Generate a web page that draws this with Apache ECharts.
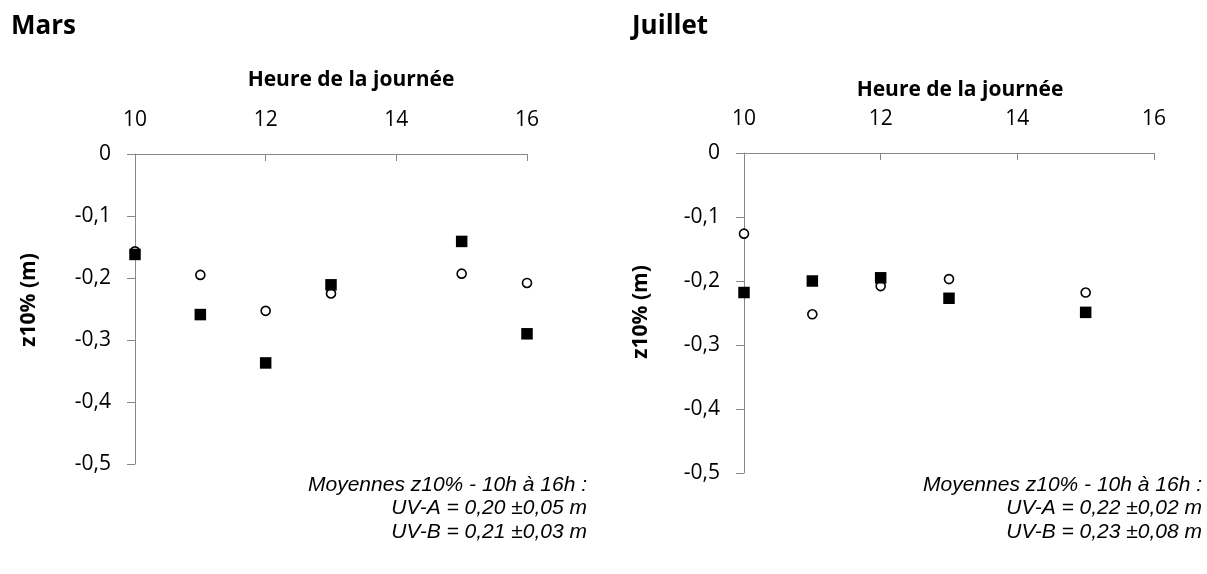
<!DOCTYPE html>
<html>
<head>
<meta charset="utf-8">
<script src="https://cdn.jsdelivr.net/npm/echarts@6/dist/echarts.min.js"></script>
<style>
  html, body { margin: 0; padding: 0; background: #fff; }
  #chart { width: 1207px; height: 574px; }
</style>
</head>
<body>
<div id="chart"></div>
<script>
// Hours of the day (x) and depth z10% (m) for each campaign
const hoursMars = [10, 11, 12, 13, 15, 16];
const marsUVB = [-0.157, -0.195, -0.253, -0.225, -0.193, -0.208];   // open circles
const marsUVA = [-0.162, -0.259, -0.337, -0.211, -0.141, -0.290];   // filled squares

const hoursJuillet = [10, 11, 12, 13, 15];
const juilletUVB = [-0.126, -0.252, -0.208, -0.197, -0.218];        // open circles
const juilletUVA = [-0.218, -0.200, -0.195, -0.227, -0.249];        // filled squares

const panelTitles = ['Mars', 'Juillet'];
const xAxisTitle = 'Heure de la journée';
const yAxisTitle = 'z10% (m)';
const notesMars = ['Moyennes z10% - 10h à 16h :', 'UV-A = 0,20 ±0,05 m', 'UV-B = 0,21 ±0,03 m'];
const notesJuillet = ['Moyennes z10% - 10h à 16h :', 'UV-A = 0,22 ±0,02 m', 'UV-B = 0,23 ±0,08 m'];

const pair = (xs, ys) => xs.map((x, i) => [x, ys[i]]);
const axisGray = '#878787';
const sans = '"Open Sans", "Noto Sans", sans-serif';

function xAxisFor(gridIndex) {
  return {
    gridIndex, type: 'value', position: 'top', min: 10, max: 16, interval: 2,
    axisLine: { show: true, onZero: false, lineStyle: { color: axisGray, width: 1 } },
    axisTick: { show: true, inside: true, length: 7, lineStyle: { color: axisGray } },
    axisLabel: { margin: 23, color: '#000', fontSize: 21, fontFamily: sans },
    splitLine: { show: false }
  };
}
function yAxisFor(gridIndex) {
  return {
    gridIndex, type: 'value', min: -0.5, max: 0, interval: 0.1,
    axisLine: { show: true, onZero: false, lineStyle: { color: axisGray, width: 1 } },
    axisTick: { show: true, inside: false, length: 8, lineStyle: { color: axisGray } },
    axisLabel: {
      margin: 24, color: '#000', fontSize: 21, fontFamily: sans,
      formatter: v => (Math.abs(v) < 1e-9 ? '0' : v.toFixed(1).replace('.', ','))
    },
    splitLine: { show: false }
  };
}
function circles(name, idx, data) {
  return {
    name, type: 'scatter', xAxisIndex: idx, yAxisIndex: idx, data,
    symbol: 'circle', symbolSize: 9,
    itemStyle: { color: '#fff', borderColor: '#000', borderWidth: 1.6, opacity: 1 },
    z: 2
  };
}
function squares(name, idx, data) {
  return {
    name, type: 'scatter', xAxisIndex: idx, yAxisIndex: idx, data,
    symbol: 'rect', symbolSize: 11.5,
    itemStyle: { color: '#000', opacity: 1 },
    z: 3
  };
}
function text(str, x, y, font, align, rotation) {
  return {
    type: 'text', x, y, rotation: rotation || 0,
    style: { text: str, font, fill: '#000', align: align || 'left', verticalAlign: 'middle' }
  };
}
function noteLines(lines, xRight, yFirst) {
  return lines.map((s, i) =>
    text(s, xRight, yFirst + i * 23.5, 'italic 21px "Liberation Sans", Arial, sans-serif', 'right'));
}

const chart = echarts.init(document.getElementById('chart'), null, { renderer: 'canvas' });
chart.setOption({
  animation: false,
  backgroundColor: '#fff',
  grid: [
    { left: 135, top: 154, width: 392, height: 310 },
    { left: 744, top: 153, width: 410, height: 320 }
  ],
  xAxis: [xAxisFor(0), xAxisFor(1)],
  yAxis: [yAxisFor(0), yAxisFor(1)],
  series: [
    circles('UV-B', 0, pair(hoursMars, marsUVB)),
    squares('UV-A', 0, pair(hoursMars, marsUVA)),
    circles('UV-B', 1, pair(hoursJuillet, juilletUVB)),
    squares('UV-A', 1, pair(hoursJuillet, juilletUVA))
  ],
  graphic: [
    text(panelTitles[0], 11, 27, 'bold 26px ' + sans),
    text(panelTitles[1], 632, 27, 'bold 26px ' + sans),
    text(xAxisTitle, 351, 80, 'bold 21px ' + sans, 'center'),
    text(xAxisTitle, 960, 90, 'bold 21px ' + sans, 'center'),
    text(yAxisTitle, 29, 300, 'bold 21px ' + sans, 'center', Math.PI / 2),
    text(yAxisTitle, 641, 312, 'bold 21px ' + sans, 'center', Math.PI / 2),
    ...noteLines(notesMars, 587, 485),
    ...noteLines(notesJuillet, 1202, 485)
  ]
});
</script>
</body>
</html>
